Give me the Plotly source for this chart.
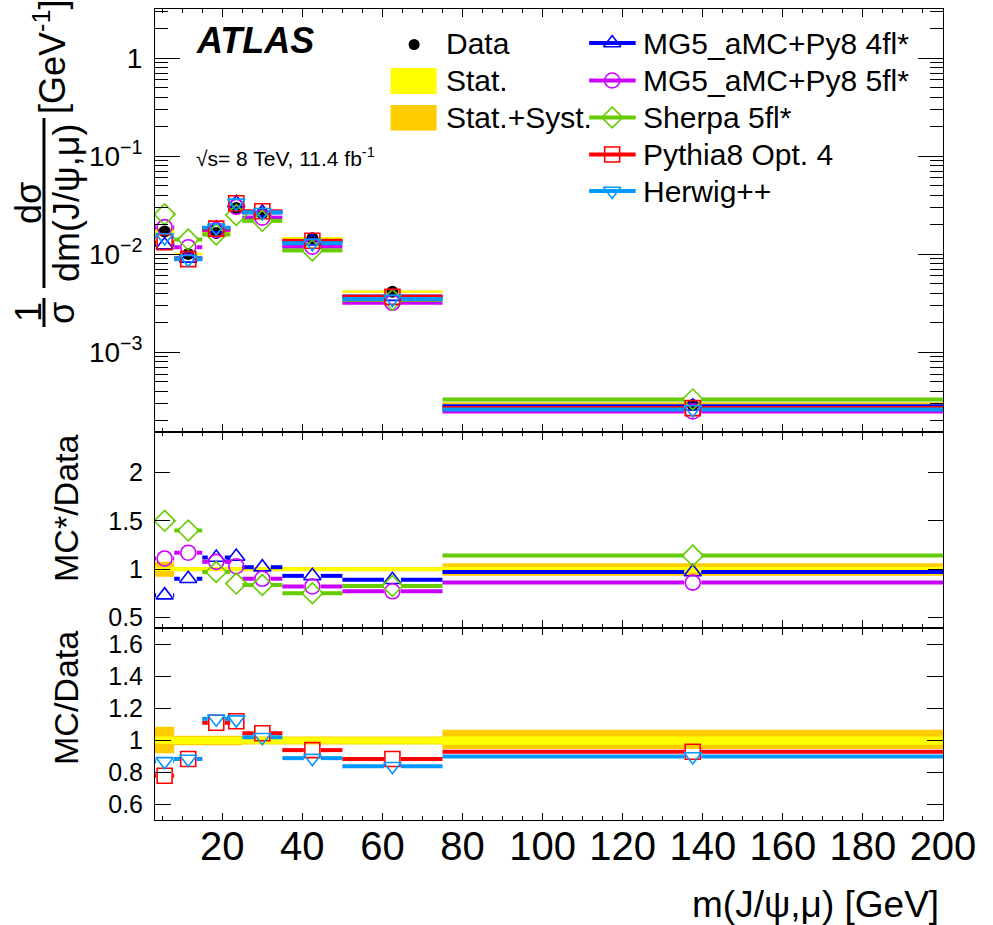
import numpy as np
import plotly.graph_objects as go

# ------------------------------------------------------------------ data
bin_edges = [3.2, 8, 15, 22, 25, 35, 50, 75, 200]
data_vals = [1.70e-2, 1.007e-2, 1.64e-2, 2.95e-2, 2.62e-2, 1.456e-2, 4.15e-3, 2.9e-4]

# MC*/Data ratios (middle panel)
ratio_mg5_4fl = [0.73, 0.90, 1.12, 1.13, 1.02, 0.93, 0.89, 0.97]
ratio_mg5_5fl = [1.11, 1.17, 1.075, 1.03, 0.90, 0.82, 0.77, 0.86]
ratio_sherpa = [1.50, 1.40, 0.97, 0.85, 0.835, 0.75, 0.825, 1.14]
# MC/Data ratios (bottom panel)
ratio_pythia = [0.78, 0.885, 1.11, 1.12, 1.045, 0.94, 0.885, 0.93]
ratio_herwig = [0.87, 0.885, 1.135, 1.13, 1.02, 0.89, 0.84, 0.90]

# relative data uncertainty bands, middle panel
mid_tot_lo = [0.92, 0.978, 0.978, 0.978, 0.978, 0.978, 0.978, 0.93]
mid_tot_hi = [1.075, 1.022, 1.022, 1.022, 1.022, 1.022, 1.022, 1.06]
mid_stat_lo = [0.98, 0.98, 0.98, 0.98, 0.98, 0.98, 0.98, 0.962]
mid_stat_hi = [1.02, 1.018, 1.018, 1.018, 1.018, 1.018, 1.018, 1.024]
# relative data uncertainty bands, bottom panel (also used on top panel)
bot_tot_lo = [0.92, 0.97, 0.97, 0.97, 0.975, 0.975, 0.975, 0.947]
bot_tot_hi = [1.085, 1.03, 1.03, 1.03, 1.025, 1.025, 1.025, 1.066]
bot_stat_lo = [0.98, 0.978, 0.978, 0.978, 0.98, 0.98, 0.98, 0.973]
bot_stat_hi = [1.025, 1.022, 1.022, 1.022, 1.02, 1.02, 1.02, 1.025]

top_tickvals = [1e-3, 1e-2, 1e-1, 1]
top_ticktext = ["10<sup>\u22123</sup>", "10<sup>\u22122</sup>", "10<sup>\u22121</sup>", "1"]
x_tickvals = [20, 40, 60, 80, 100, 120, 140, 160, 180, 200]

series_names = ["MG5_aMC+Py8 4fl*", "MG5_aMC+Py8 5fl*", "Sherpa 5fl*", "Pythia8 Opt. 4", "Herwig++"]

# ------------------------------------------------------------------ style
FONT = "Liberation Sans, Arial, Helvetica, sans-serif"
C_BLUE, C_MAG, C_GREEN, C_RED, C_CYAN = "#0000ff", "#cc00ff", "#66cc00", "#ff0000", "#0099ff"
C_YEL, C_ORA = "#ffff00", "#ffcc00"

W, H = 993, 925
L, R, T, B = 155, 942.7, 9, 820      # plot area in pixels
Y_SPLIT1, Y_SPLIT2 = 432, 628        # panel boundaries in pixels
XMIN, XMAX = bin_edges[0], bin_edges[-1]
px_per_gev = (R - L) / (XMAX - XMIN)
GAP = 8.5 / px_per_gev


def PX(x):
    return (x - L) / (R - L)


def PY(y):
    return (B - y) / (B - T)


edges = np.array(bin_edges)
lo_e, hi_e = edges[:-1], edges[1:]
centres = 0.5 * (lo_e + hi_e)
data = np.array(data_vals)


def segments(vals):
    xs, ys = [], []
    for lo, hi, c, v in zip(lo_e, hi_e, centres, vals):
        if c - GAP > lo:
            xs += [lo, c - GAP, None]
            ys += [v, v, None]
        if c + GAP < hi:
            xs += [c + GAP, hi, None]
            ys += [v, v, None]
    return xs, ys


def band(lo_vals, hi_vals):
    xs, ys = [], []
    for lo, hi, a, b in zip(lo_e, hi_e, lo_vals, hi_vals):
        xs += [lo, hi, hi, lo, lo, None]
        ys += [a, a, b, b, a, None]
    return xs, ys


fig = go.Figure()


def add_band(lo_vals, hi_vals, color, xa, ya):
    bx, by = band(lo_vals, hi_vals)
    fig.add_trace(go.Scatter(x=bx, y=by, fill="toself", fillcolor=color, mode="lines",
                             line=dict(width=0, color=color), xaxis=xa, yaxis=ya,
                             showlegend=False, hoverinfo="skip"))


def add_mc(vals, color, symbol, size, xa, ya):
    sx, sy = segments(vals)
    fig.add_trace(go.Scatter(x=sx, y=sy, mode="lines", line=dict(color=color, width=4),
                             xaxis=xa, yaxis=ya, showlegend=False, hoverinfo="skip"))
    fig.add_trace(go.Scatter(x=centres, y=vals, mode="markers",
                             marker=dict(symbol=symbol, size=size, color=color,
                                         line=dict(color=color, width=1.6)),
                             xaxis=xa, yaxis=ya, showlegend=False))


mc_styles = [
    (C_BLUE, "triangle-up-open", 15),
    (C_MAG, "circle-open", 15),
    (C_GREEN, "diamond-open", 16),
    (C_RED, "square-open", 15),
    (C_CYAN, "triangle-down-open", 15),
]
mc_ratios = [ratio_mg5_4fl, ratio_mg5_5fl, ratio_sherpa, ratio_pythia, ratio_herwig]

# ---------------- top panel
add_band(data * np.array(bot_tot_lo), data * np.array(bot_tot_hi), C_ORA, "x3", "y3")
add_band(data * np.array(bot_stat_lo), data * np.array(bot_stat_hi), C_YEL, "x3", "y3")
fig.add_trace(go.Scatter(x=centres, y=data, mode="markers",
                         marker=dict(symbol="circle", size=12, color="black"),
                         xaxis="x3", yaxis="y3", showlegend=False))
for (col, sym, sz), rat in zip(mc_styles, mc_ratios):
    add_mc(data * np.array(rat), col, sym, sz, "x3", "y3")

# ---------------- middle panel
add_band(mid_tot_lo, mid_tot_hi, C_ORA, "x2", "y2")
add_band(mid_stat_lo, mid_stat_hi, C_YEL, "x2", "y2")
for (col, sym, sz), rat in zip(mc_styles[:3], mc_ratios[:3]):
    add_mc(rat, col, sym, sz, "x2", "y2")

# ---------------- bottom panel
add_band(bot_tot_lo, bot_tot_hi, C_ORA, "x", "y")
add_band(bot_stat_lo, bot_stat_hi, C_YEL, "x", "y")
for (col, sym, sz), rat in zip(mc_styles[3:], mc_ratios[3:]):
    add_mc(rat, col, sym, sz, "x", "y")

# ---------------- legend (markers on a hidden overlay axis in top-panel pixel units)
leg_rows = [43, 80.5, 117.5, 154.5, 191]
LEG_FONT = dict(size=30, color="black", family=FONT)
fig.add_trace(go.Scatter(x=[414], y=[leg_rows[0] + 1.5], mode="markers",
                         marker=dict(symbol="circle", size=11, color="black"),
                         xaxis="x4", yaxis="y4", showlegend=False, hoverinfo="skip"))
shapes = []
annotations = []
for i, ((col, sym, sz), name) in enumerate(zip(mc_styles, series_names)):
    yy = leg_rows[i]
    shapes.append(dict(type="line", xref="paper", yref="paper", x0=PX(589), x1=PX(635.5),
                       y0=PY(yy), y1=PY(yy), line=dict(color=col, width=4)))
    fig.add_trace(go.Scatter(x=[612], y=[yy], mode="markers",
                             marker=dict(symbol=sym, size=sz, color=col, line=dict(color=col, width=1.6)),
                             xaxis="x4", yaxis="y4", showlegend=False, hoverinfo="skip"))
    annotations.append(dict(xref="paper", yref="paper", x=PX(641), y=PY(yy), text=name, showarrow=False,
                            xanchor="left", yanchor="middle", font=LEG_FONT))

shapes.append(dict(type="rect", xref="paper", yref="paper", x0=PX(390.5), x1=PX(436.5),
                   y0=PY(94), y1=PY(68), fillcolor=C_YEL, line=dict(width=0)))
shapes.append(dict(type="rect", xref="paper", yref="paper", x0=PX(390.5), x1=PX(436.5),
                   y0=PY(130.5), y1=PY(105), fillcolor=C_ORA, line=dict(width=0)))
for txt, yy in zip(["Data", "Stat.", "Stat.+Syst."], leg_rows[:3]):
    annotations.append(dict(xref="paper", yref="paper", x=PX(444), y=PY(yy), text=txt, showarrow=False,
                            xanchor="left", yanchor="middle", font=LEG_FONT))

annotations.append(dict(xref="paper", yref="paper", x=PX(194), y=PY(40), text="<b><i>ATLAS</i></b>",
                        showarrow=False, xanchor="left", yanchor="middle",
                        font=dict(size=36, color="black", family=FONT)))
annotations.append(dict(xref="paper", yref="paper", x=PX(194), y=PY(157),
                        text="\u221As= 8 TeV, 11.4 fb<sup>-1</sup>",
                        showarrow=False, xanchor="left", yanchor="middle",
                        font=dict(size=21, color="black", family=FONT)))

# axis titles
annotations.append(dict(xref="paper", yref="paper", x=PX(941), y=PY(904), text="m(J/\u03c8,\u03bc) [GeV]",
                        showarrow=False, xanchor="right", yanchor="middle",
                        font=dict(size=37, color="black", family=FONT)))
annotations.append(dict(xref="paper", yref="paper", x=PX(66), y=PY(508), text="MC*/Data", showarrow=False,
                        textangle=-90, xanchor="center", yanchor="middle",
                        font=dict(size=34, color="black", family=FONT)))
annotations.append(dict(xref="paper", yref="paper", x=PX(66), y=PY(698), text="MC/Data", showarrow=False,
                        textangle=-90, xanchor="center", yanchor="middle",
                        font=dict(size=34, color="black", family=FONT)))
# top panel y title: 1/sigma dsigma/dm [GeV^-1]
tf = dict(size=36, color="black", family=FONT)
for txt, xx, yy in [("1", 29, 312), ("\u03c3", 61, 313), ("d\u03c3", 29, 203),
                    ("dm(J/\u03c8,\u03bc)", 67, 203), ("[GeV<sup>-1</sup>]", 50, 57)]:
    annotations.append(dict(xref="paper", yref="paper", x=PX(xx), y=PY(yy), text=txt, showarrow=False,
                            textangle=-90, xanchor="center", yanchor="middle", font=tf))
shapes.append(dict(type="line", xref="paper", yref="paper", x0=PX(44), x1=PX(44), y0=PY(288), y1=PY(118),
                   line=dict(color="black", width=3)))
shapes.append(dict(type="line", xref="paper", yref="paper", x0=PX(44), x1=PX(44), y0=PY(327), y1=PY(298),
                   line=dict(color="black", width=3)))

# ------------------------------------------------------------------ axes
dom_bot = PY(Y_SPLIT2)
dom_mid = PY(Y_SPLIT1)

common_x = dict(range=[XMIN, XMAX], ticks="inside", mirror="allticks", showline=True,
                linecolor="black", linewidth=1, tickcolor="black", tickwidth=1.2,
                tickvals=x_tickvals, showgrid=False, zeroline=False,
                minor=dict(ticks="inside", dtick=5, tick0=0, ticklen=4, tickcolor="black", showgrid=False))
common_y = dict(ticks="inside", mirror="allticks", showline=True, linecolor="black", linewidth=1,
                tickcolor="black", tickwidth=1.2, showgrid=False, zeroline=False,
                tickfont=dict(size=25, color="black", family=FONT), ticklabelstandoff=6)

minor_log = [k * 10.0 ** e for e in range(-4, 1) for k in range(2, 10)]

fig.update_layout(
    width=W, height=H, plot_bgcolor="white", paper_bgcolor="white",
    margin=dict(l=L, r=W - R, t=T, b=H - B, pad=0),
    font=dict(family=FONT, color="black"),
    showlegend=False,
    xaxis=dict(common_x, anchor="y", domain=[0, 1], ticklen=7,
               tickfont=dict(size=40, color="black", family=FONT), ticklabelstandoff=-9),
    xaxis2=dict(common_x, anchor="y2", domain=[0, 1], matches="x", showticklabels=False, ticklen=8),
    xaxis3=dict(common_x, anchor="y3", domain=[0, 1], matches="x", showticklabels=False, ticklen=8),
    yaxis=dict(common_y, anchor="x", domain=[0, dom_bot], range=[0.505, 1.70], dtick=0.2, tick0=0,
               ticklen=16),
    yaxis2=dict(common_y, anchor="x2", domain=[dom_bot, dom_mid], range=[0.39, 2.42], dtick=0.5,
                tick0=0, ticklen=15),
    yaxis3=dict(common_y, anchor="x3", domain=[dom_mid, 1], type="log", range=[-3.813, 0.5],
                tickvals=top_tickvals, ticktext=top_ticktext, ticklen=25,
                tickfont=dict(size=28, color="black", family=FONT), ticklabelstandoff=6,
                minor=dict(ticks="inside", tickvals=minor_log, ticklen=13, tickcolor="black")),
    xaxis4=dict(range=[L, R], visible=False, anchor="y4", overlaying="x3", fixedrange=True),
    yaxis4=dict(range=[Y_SPLIT1, T], visible=False, anchor="x4", overlaying="y3", fixedrange=True),
    shapes=shapes,
    annotations=annotations,
)

fig.write_html("out.html")
